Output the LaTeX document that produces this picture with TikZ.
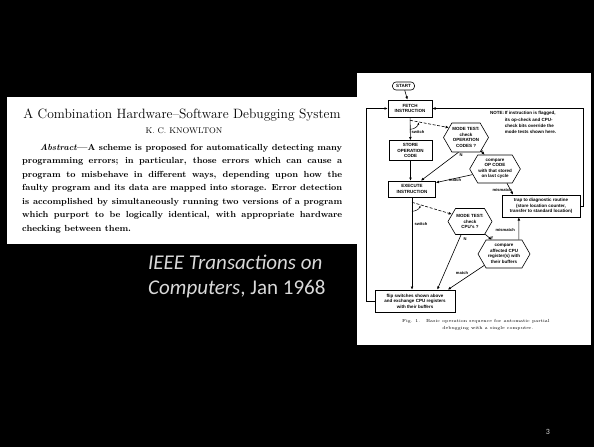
\documentclass[tikz,border=0pt]{standalone}
\usepackage{fontspec}
\setsansfont{Carlito}
\newfontfamily\chartfont{Liberation Sans}
\usepackage{tikz}
\usetikzlibrary{arrows.meta, shapes.symbols, calc, positioning}
\definecolor{slidegray}{RGB}{217,217,217}

\begin{document}
\begin{tikzpicture}[x=1pt, y=-1pt,
  chartbox/.style={draw, line width=0.6pt, inner sep=0.5pt, align=center, font=\chartfont\bfseries\fontsize{4.5}{5.5}\selectfont},
  hexbox/.style={chartbox, signal, signal to=west and east, signal pointer angle=120},
  flow/.style={line width=0.6pt, -{Latex[length=3.2pt,width=2.8pt]}},
  swflow/.style={flow, dash pattern=on 3pt off 1.6pt},
  swarc/.style={line width=0.5pt, -{Latex[length=2.4pt,width=2pt]}},
  tag/.style={inner sep=0pt, font=\chartfont\bfseries\fontsize{4.1}{4.8}\selectfont},
]

% slide background and bounding box
\fill[black] (0,0) rectangle (594,447);
\useasboundingbox (0,0) rectangle (594,447);

% set loop positions of the flowchart
\pgfmathsetmacro{\leftloop}{8}
\pgfmathsetmacro{\rightloop}{3}

% paper clip on the left
\fill[white] (7,97) rectangle (358,244);
\node[font=\fontsize{13.5}{15}\selectfont] (title) at (182,115) {A Combination Hardware--Software Debugging System};
\node[font=\fontsize{8.2}{10}\selectfont] (author) at (184,131) {K. C. KNOWLTON};
\node[anchor=north west, text width=320pt, align=justify, inner sep=0pt,
      font=\bfseries\fontsize{8.8}{13.5}\selectfont] (abstract) at (22,144)
 {\hspace*{18pt}\textit{Abstract}---A scheme is proposed for automatically detecting many\linebreak
  programming errors; in particular, those errors which can cause a\linebreak
  program to misbehave in different ways, depending upon how the\linebreak
  faulty program and its data are mapped into storage. Error detection\linebreak
  is accomplished by simultaneously running two versions of a program\linebreak
  which purport to be logically identical, with appropriate hardware\linebreak
  checking between them.};

% journal reference and page number
\node[anchor=north west, inner sep=0pt, align=left, text=slidegray,
      font=\sffamily\fontsize{21}{25}\selectfont] (journal) at (148,254.5)
 {\textit{IEEE Transactions on}\\\textit{Computers}, Jan 1968};
\node[text=slidegray, font=\sffamily\fontsize{8}{9}\selectfont] (pagenum) at (548,432) {3};

% flowchart clip on the right
\fill[white] (357,73) rectangle (591,345);
\node[chartbox, rounded corners=3.5pt, minimum width=22pt, minimum height=8pt] (start) at (403.5,86) {START};
\node[chartbox, minimum width=44pt, minimum height=17pt] (fetch) at (410,108.5) {FETCH\\INSTRUCTION};
\node[chartbox, minimum width=43pt, minimum height=20pt] (store) at (410.5,150.5) {STORE\\OPERATION\\CODE};
\node[chartbox, minimum width=47pt, minimum height=16pt] (execute) at (412,189) {EXECUTE\\INSTRUCTION};
\node[chartbox, minimum width=78pt, minimum height=22pt] (trap) at (541,206)
 {trap to diagnostic routine\\(store location counter,\\transfer to standard location)};
\node[chartbox, minimum width=80pt, minimum height=22pt] (flip) at (415,301)
 {flip switches shown above\\and exchange CPU registers\\with their buffers};
\node[hexbox, minimum width=43pt, minimum height=29pt] (modeA) at (466,137.5) {MODE TEST:\\check\\OPERATION\\CODES ?};
\node[hexbox, minimum width=50pt, minimum height=28pt] (cmpA) at (495,169) {compare\\OP CODE\\with that stored\\on last cycle};
\node[hexbox, minimum width=44pt, minimum height=26pt] (modeB) at (470,221.5) {MODE TEST:\\check\\CPU's ?};
\node[hexbox, minimum width=52pt, minimum height=28pt] (cmpB) at (504,254) {compare\\affected CPU\\register(s) with\\their buffers};
\node[anchor=north west, inner sep=0pt, font=\chartfont\bfseries\fontsize{4.5}{6.4}\selectfont] (note) at (490,110)
 {\begin{tabular}{@{}l@{\,}l@{}}NOTE: & If instruction is flagged,\\ & its op-check and CPU-\\ & check bits override the\\ & mode tests shown here.\end{tabular}};
\node[anchor=north west, inner sep=0pt, font=\fontsize{4.4}{7}\selectfont] (caption) at (402,317)
 {\begin{tabular}{@{}l@{\hspace{6pt}}c@{}}Fig. 1. & Basic operation sequence for automatic partial\\ & debugging with a single computer.\end{tabular}};

% main sequence
\draw[flow] (start) -- (fetch);
\draw[flow] (fetch) -- (store);
\draw[flow] (store.south) -- (store.south |- execute.north);
\draw[flow] (execute.south) -- (execute.south |- flip.north);
\draw[flow] (flip.west) -- ++(-\leftloop,0) |- (fetch.west);
\draw[flow] (trap.east) -- ++(\rightloop,0) |- (fetch.east);

% first mode test
\coordinate (swA) at ($(fetch.south)+(0,3)$);
\draw[swflow] (swA) -- (modeA.150);
\draw[swarc] (swA) ++(90:9) arc[start angle=90, end angle=13, radius=9];
\node[tag] (swAtag) at (418,132) {switch};
\draw[flow] (modeA.243) -- (execute.43);
\node[tag] (nAtag) at (461,155) {N};
\draw[flow] (modeA.-42) -- (cmpA.126);
\node[tag] (yAtag) at (482,152) {Y};
\draw[flow] (cmpA.194) -- (execute.15);
\node[tag] (matchAtag) at (455,180) {match};
\draw[flow] (cmpA.-50) -- (trap.158);
\node[tag, anchor=east] (misAtag) at (512,190) {mismatch};

% second mode test
\coordinate (swB) at ($(execute.south)+(0,5)$);
\draw[swflow] (swB) -- (modeB.158);
\draw[swarc] (swB) ++(90:9) arc[start angle=90, end angle=20, radius=9];
\node[tag] (swBtag) at (421,224) {switch};
\draw[flow] (modeB.236) -- (flip.27);
\node[tag] (nBtag) at (465,239) {N};
\draw[flow] (modeB.-40) -- (cmpB.131);
\node[tag] (yBtag) at (492,238) {Y};
\draw[flow] (cmpB.44) -- (trap.207);
\node[tag, anchor=east] (misBtag) at (515,230) {mismatch};
\draw[flow] (cmpB.210) -- (flip.19);
\node[tag] (matchBtag) at (462,273) {match};

\end{tikzpicture}
\end{document}
